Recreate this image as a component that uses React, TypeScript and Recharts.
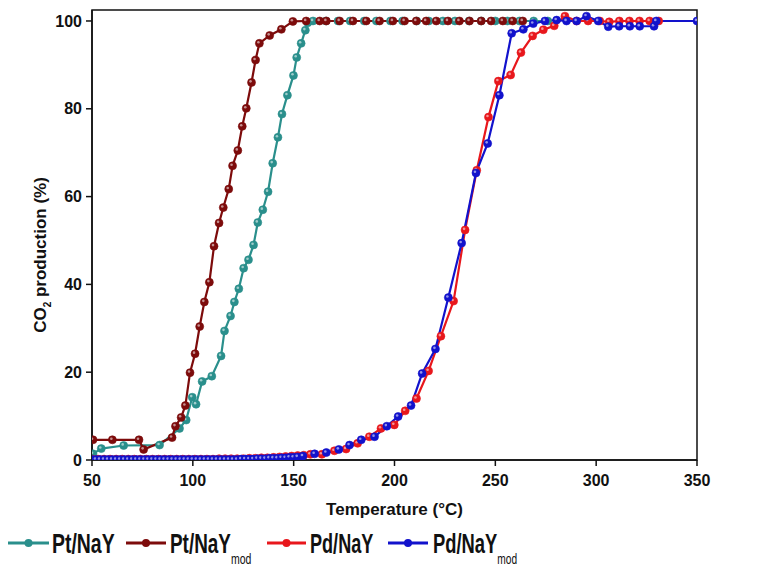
import React from 'react';
import { LineChart, Line, XAxis, YAxis, ReferenceArea } from 'recharts';

// ---- Data ----
const ptNaYTemp = [50.5, 54.6, 65.7, 83.5, 93.4, 96.7, 99.7, 101.6, 104.6, 109.4, 114, 115.7, 118.7, 120.6, 122.8, 125.2, 127.6, 130.1, 132.2, 134.7, 137.3, 139.6, 142.2, 144.2, 146.9, 149.9, 151.5, 153.7, 155.8, 157, 159.6, 166, 172, 178, 185, 191, 198, 204, 211, 217, 224, 230, 237, 243, 250, 256, 262, 269, 276];
const ptNaYVal = [1.4, 2.6, 3.3, 3.4, 7.2, 9.1, 14.3, 12.7, 17.9, 19.1, 23.7, 29.4, 32.8, 36, 39, 43.7, 45.6, 49, 54.1, 57, 61.1, 67.6, 73.5, 78.8, 83.1, 87.6, 91.7, 94.9, 97.9, 99.6, 100, 100, 100, 100, 100, 100, 100, 100, 100, 100, 100, 100, 100, 100, 100, 100, 100, 100, 100];

const ptNaYmodTemp = [50.5, 60.1, 73.3, 75.6, 89.7, 91.4, 94.2, 96.3, 98.6, 101.1, 103.4, 105.7, 108.2, 110.5, 113, 115.1, 117.8, 119.7, 122.3, 124.5, 126.5, 129.1, 131.1, 133, 138.1, 143.9, 149.6, 156.2, 162.9, 166.2, 172.8, 179.4, 186, 192.6, 199.2, 205, 210.8, 215.7, 220.7, 226.5, 232.2, 237.2, 243, 247.9, 253.7, 258.6, 263.6];
const ptNaYmodVal = [4.6, 4.6, 4.6, 2.4, 5.1, 7.7, 9.7, 12.4, 19.9, 24.2, 30.4, 36, 40.5, 48.7, 54, 57.5, 61.7, 67, 70.5, 76, 80.1, 86, 91.1, 94.9, 96.7, 98.1, 99.9, 100, 100, 100, 100, 100, 100, 100, 100, 100, 100, 100, 100, 100, 100, 100, 100, 100, 100, 100, 100];

const pdNaYTemp = [50, 53, 56, 59, 62, 65, 68, 71, 74, 77, 80, 83, 86, 89, 92, 95, 98, 101, 104, 107, 110, 113, 116, 119, 122, 125, 128, 131, 134, 137, 140, 143, 146, 149, 152, 155, 158.3, 164, 170.2, 176, 181.7, 187.5, 193.3, 199.9, 205.3, 210.9, 216.9, 223, 229.3, 235, 240.8, 246.6, 251.5, 257.6, 262.7, 268.5, 273.8, 279.2, 284.5, 290.3, 296, 301.8, 306.5, 311.5, 316.5, 321.5, 326.5, 331];
const pdNaYVal = [0.2, 0.2, 0.2, 0.2, 0.2, 0.2, 0.2, 0.2, 0.2, 0.2, 0.2, 0.2, 0.2, 0.2, 0.2, 0.2, 0.2, 0.2, 0.2, 0.2, 0.2, 0.3, 0.3, 0.3, 0.3, 0.3, 0.4, 0.4, 0.5, 0.5, 0.6, 0.7, 0.8, 0.9, 1.0, 1.1, 1.3, 1.3, 2.1, 2.5, 3.8, 5.3, 7.2, 8, 11.2, 14, 20.3, 28.2, 36.2, 52.4, 66, 78.1, 86.3, 87.7, 92.8, 96.6, 98, 98.9, 101.1, 100, 100, 100, 99.8, 100, 100, 100, 100, 100];

const pdNaYmodTemp = [50, 52, 54, 56, 58, 60, 62, 64, 66, 68, 70, 72, 74, 76, 78, 80, 82, 84, 86, 88, 90, 92, 94, 96, 98, 100, 102, 104, 106, 108, 110, 112, 114, 116, 118, 120, 122, 124, 126, 128, 130, 132, 134, 136, 138, 140, 142, 144, 146, 148, 150, 152, 154.6, 160.4, 166.2, 172.4, 177.7, 183.5, 190.1, 196.2, 201.8, 208.2, 213.7, 220.3, 226.7, 233.3, 240.4, 246.2, 252, 258.1, 263.9, 268.8, 274.6, 280.4, 285.3, 290.3, 295.2, 301, 306, 311.4, 316.7, 321.6, 328.7, 329.8, 350];
const pdNaYmodVal = [0.1, 0.1, 0.1, 0.1, 0.1, 0.1, 0.1, 0.1, 0.1, 0.1, 0.1, 0.1, 0.1, 0.1, 0.1, 0.1, 0.1, 0.1, 0.1, 0.1, 0.1, 0.1, 0.1, 0.1, 0.1, 0.1, 0.1, 0.1, 0.1, 0.1, 0.1, 0.1, 0.1, 0.1, 0.1, 0.1, 0.1, 0.2, 0.2, 0.2, 0.2, 0.3, 0.3, 0.3, 0.4, 0.4, 0.4, 0.5, 0.5, 0.6, 0.6, 0.7, 0.9, 1.4, 1.7, 2.4, 3.4, 4.6, 5.3, 7.7, 9.9, 12.4, 19.7, 25.3, 37, 49.4, 65.4, 72.1, 83.1, 97.2, 98.1, 99.4, 100, 100.2, 100, 100, 101.1, 100, 98.7, 98.8, 98.8, 98.8, 98.8, 100, 100];

const xTicks = [50, 100, 150, 200, 250, 300, 350];
const yTicks = [0, 20, 40, 60, 80, 100];

const seriesNames = ['Pt/NaY', 'Pt/NaY', 'Pd/NaY', 'Pd/NaY'];
const seriesSubs = ['', 'mod', '', 'mod'];
const seriesColors = ['#2a8f8c', '#7d0b0b', '#e8171c', '#1212cc'];

const toRows = (t: number[], v: number[]) => t.map((x, i) => ({ t: x, v: v[i] }));
const series = [
  toRows(ptNaYTemp, ptNaYVal),
  toRows(ptNaYmodTemp, ptNaYmodVal),
  toRows(pdNaYTemp, pdNaYVal),
  toRows(pdNaYmodTemp, pdNaYmodVal),
];

const FONT = 'Arial, "Liberation Sans", sans-serif';

const makeDot = (color: string) => (props: any) => {
  const { cx, cy, index } = props;
  if (cx == null || cy == null) return <g key={index} />;
  return (
    <g key={index}>
      <circle cx={cx} cy={cy} r={4} fill={color} stroke={color} strokeWidth={0.6} />
      <circle cx={cx - 1} cy={cy - 1.1} r={1.3} fill="#ffffff" fillOpacity={0.55} />
    </g>
  );
};

const YTitle = (props: any) => {
  const vb = props.viewBox || { x: 0, y: 10, width: 92, height: 450 };
  const x = vb.x + 46;
  const y = vb.y + vb.height / 2 + 20;
  return (
    <text x={x} y={y} transform={`rotate(-90 ${x} ${y})`} textAnchor="middle" fontFamily={FONT} fontWeight="bold" fontSize={17} fill="#111">
      CO<tspan fontSize={10} dy={5}>2</tspan><tspan dy={-5}> production (%)</tspan>
    </text>
  );
};

const XTitle = (props: any) => {
  const vb = props.viewBox || { x: 92, y: 460, width: 605, height: 117 };
  return (
    <text x={vb.x + vb.width / 2} y={vb.y + 55} textAnchor="middle" fontFamily={FONT} fontWeight="bold" fontSize={17} fill="#111">
      Temperature (°C)
    </text>
  );
};

const legendLayout = [
  { lx1: 8, lx2: 49, tx: 52, sc: 0.72 },
  { lx1: 126, lx2: 166, tx: 170, sc: 0.7 },
  { lx1: 267, lx2: 306, tx: 310, sc: 0.67 },
  { lx1: 388, lx2: 428, tx: 433, sc: 0.68 },
];

export default function App() {
  return (
    <div style={{ position: 'absolute', left: 0, top: 0, width: 783, height: 577, background: '#fff' }}>
      <LineChart width={783} height={577} margin={{ top: 10, right: 86, left: 0, bottom: 0 }}>
        <XAxis
          dataKey="t"
          type="number"
          domain={[50, 350]}
          ticks={xTicks}
          allowDataOverflow
          height={117}
          tickSize={6}
          tickMargin={9}
          stroke="#111"
          strokeWidth={1.5}
          tick={{ fill: '#111', fontSize: 16, fontWeight: 'bold', fontFamily: FONT }}
          label={<XTitle />}
        />
        <YAxis
          dataKey="v"
          type="number"
          domain={[0, 102.5]}
          ticks={yTicks}
          allowDataOverflow
          width={92}
          tickSize={6}
          tickMargin={4}
          stroke="#111"
          strokeWidth={1.5}
          tick={{ fill: '#111', fontSize: 16, fontWeight: 'bold', fontFamily: FONT }}
          label={<YTitle />}
        />
        <ReferenceArea x1={50} x2={350} y1={0} y2={102.5} fill="none" stroke="#111" strokeWidth={1.5} ifOverflow="visible" />
        {series.map((d, i) => (
          <Line
            key={i}
            data={d}
            dataKey="v"
            name={seriesNames[i] + seriesSubs[i]}
            type="linear"
            stroke={seriesColors[i]}
            strokeWidth={2.2}
            dot={makeDot(seriesColors[i])}
            activeDot={false}
            isAnimationActive={false}
          />
        ))}
      </LineChart>
      <svg width={783} height={77} style={{ position: 'absolute', left: 0, top: 500 }}>
        {legendLayout.map((l, i) => (
          <g key={i}>
            <line x1={l.lx1} y1={43} x2={l.lx2} y2={43} stroke={seriesColors[i]} strokeWidth={3} />
            <circle cx={(l.lx1 + l.lx2) / 2} cy={43} r={4} fill={seriesColors[i]} />
            <text transform={`translate(${l.tx},53) scale(${l.sc},1)`} x={0} y={0} fontFamily={FONT} fontWeight="bold" fontSize={27} fill="#111">
              {seriesNames[i]}
              {seriesSubs[i] ? (
                <tspan fontSize={15} fontWeight="normal" dy={11}>{seriesSubs[i]}</tspan>
              ) : null}
            </text>
          </g>
        ))}
      </svg>
    </div>
  );
}
